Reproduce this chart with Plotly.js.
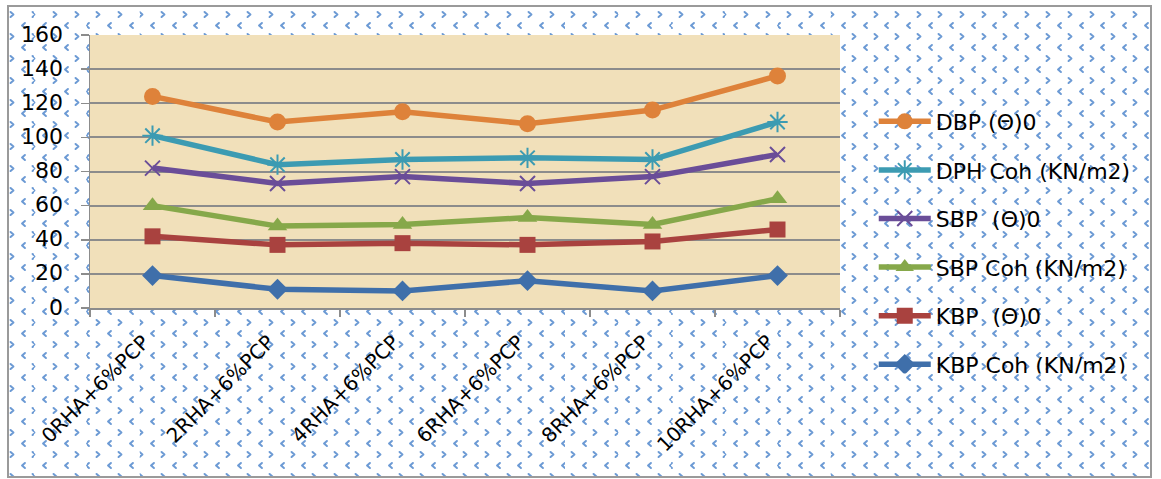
<!DOCTYPE html>
<html>
<head>
<meta charset="utf-8">
<script src="https://cdn.plot.ly/plotly-3.0.1.min.js"></script>
<style>
  html, body { margin: 0; padding: 0; background: #ffffff; }
  #wrap { position: relative; width: 1161px; height: 479px; overflow: hidden; }
  #frame {
    position: absolute; left: 7px; top: 5px; width: 1141px; height: 469px;
    border: 2px solid #9a9a9a;
    background-color: #ffffff;
    background-image: url("data:image/svg+xml;utf8,<svg xmlns='http://www.w3.org/2000/svg' width='21.6' height='22'><path d='M3.5,3 L6.3,5.5 L3.5,8' fill='none' stroke='%235289cd' stroke-width='2' stroke-linecap='round' stroke-linejoin='round' opacity='0.85'/><path d='M17.6,14 L14.8,16.5 L17.6,19' fill='none' stroke='%235289cd' stroke-width='2' stroke-linecap='round' stroke-linejoin='round' opacity='0.85'/></svg>");
    background-position: -2px 2px;
  }
  #chart { position: absolute; left: 0; top: 0; width: 1161px; height: 479px; }
</style>
</head>
<body>
<div id="wrap">
  <div id="frame"></div>
  <div id="chart"></div>
</div>
<script>
const categories = ["0RHA+6%PCP", "2RHA+6%PCP", "4RHA+6%PCP", "6RHA+6%PCP", "8RHA+6%PCP", "10RHA+6%PCP"];

const seriesNames = ["DBP (Θ)0", "DPH Coh (KN/m2)", "SBP  (Θ)0", "SBP Coh (KN/m2)", "KBP  (Θ)0", "KBP Coh (KN/m2)"];

const dbpTheta = [124, 109, 115, 108, 116, 136];
const dphCoh   = [101, 84, 87, 88, 87, 109];
const sbpTheta = [82, 73, 77, 73, 77, 90];
const sbpCoh   = [60, 48, 49, 53, 49, 64];
const kbpTheta = [42, 37, 38, 37, 39, 46];
const kbpCoh   = [19, 11, 10, 16, 10, 19];

const yTicks = [0, 20, 40, 60, 80, 100, 120, 140, 160];

const seriesValues = [dbpTheta, dphCoh, sbpTheta, sbpCoh, kbpTheta, kbpCoh];
const colors  = ["#DE823A", "#3C9BB2", "#6A4D98", "#86A84A", "#A9423F", "#3F6FAA"];
const symbols = ["circle", "asterisk-open", "x-thin-open", "triangle-up", "square", "diamond"];
const sizes   = [17, 17, 15, 17, 16, 16];

const traces = seriesValues.map((vals, i) => ({
  type: "scatter",
  mode: "lines+markers",
  name: seriesNames[i],
  x: categories,
  y: vals,
  legendgroup: "g" + i,
  line: { color: colors[i], width: 5.5 },
  marker: {
    symbol: symbols[i],
    size: sizes[i],
    color: colors[i],
    line: { color: colors[i], width: (symbols[i].indexOf("open") >= 0 ? 2 : 0) }
  },
  cliponaxis: false
}));

const yLabelAnnotations = yTicks.map(v => ({
  xref: "paper", yref: "y", x: 0, y: v,
  text: String(v), showarrow: false,
  xanchor: "right", yanchor: "middle",
  xshift: -25, yshift: 1,
  font: { family: "DejaVu Sans", size: 22, color: "#000000" }
}));

const xLabelAnnotations = categories.map(c => ({
  xref: "x", yref: "paper", x: c, y: 0,
  text: c, showarrow: false,
  textangle: -45,
  xanchor: "right", yanchor: "top",
  xshift: 4, yshift: -19,
  font: { family: "DejaVu Sans", size: 20, color: "#000000" }
}));

const layout = {
  width: 1161,
  height: 479,
  margin: { l: 90, r: 321, t: 35, b: 171, pad: 0 },
  paper_bgcolor: "rgba(0,0,0,0)",
  plot_bgcolor: "#F1E0BA",
  font: { family: "DejaVu Sans", color: "#000000", size: 20 },
  showlegend: true,
  legend: {
    x: 1.045, xanchor: "left",
    y: 0.76, yanchor: "top",
    bgcolor: "rgba(0,0,0,0)",
    font: { family: "DejaVu Sans", size: 22, color: "#000000" },
    traceorder: "grouped",
    tracegroupgap: 17,
    itemwidth: 52
  },
  annotations: yLabelAnnotations.concat(xLabelAnnotations),
  xaxis: {
    type: "category",
    range: [-0.5, 5.5],
    tickson: "boundaries",
    ticks: "outside",
    ticklen: 7,
    tickcolor: "#8c8c8c",
    tickwidth: 1.5,
    showline: true,
    linecolor: "#8c8c8c",
    linewidth: 1.5,
    showgrid: false,
    showticklabels: false,
    fixedrange: true
  },
  yaxis: {
    range: [0, 160],
    tickvals: yTicks,
    ticks: "outside",
    ticklen: 8,
    tickcolor: "#8c8c8c",
    tickwidth: 1.5,
    showline: true,
    linecolor: "#8c8c8c",
    linewidth: 1.5,
    showgrid: true,
    gridcolor: "#8c8c8c",
    gridwidth: 2,
    zeroline: false,
    showticklabels: false,
    fixedrange: true
  }
};

Plotly.newPlot("chart", traces, layout, { displayModeBar: false, staticPlot: true });
</script>
</body>
</html>
